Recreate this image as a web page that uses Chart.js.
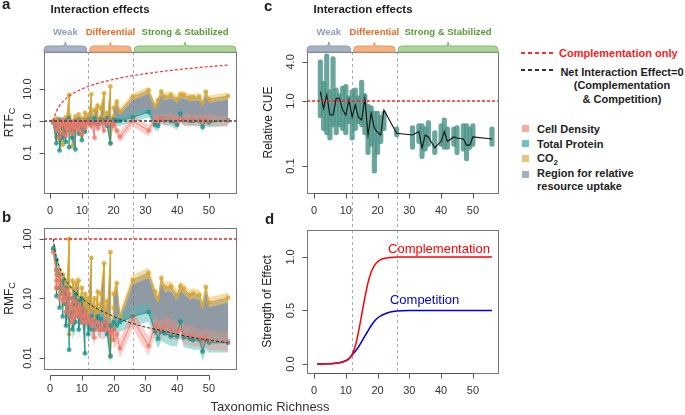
<!DOCTYPE html>
<html>
<head>
<meta charset="utf-8">
<script src="https://cdn.jsdelivr.net/npm/chart.js@4.4.1/dist/chart.umd.min.js"></script>
<style>
  body { margin: 0; width: 685px; height: 415px; background: #fff; position: relative; overflow: hidden;
         font-family: "Liberation Sans", Arial, sans-serif; color: #222; }
  .pane { position: absolute; }
  .lbl { position: absolute; white-space: nowrap; }
  .leg { font-weight: bold; font-size: 11px; line-height: 14px; color: #222; }
  .sq { position: absolute; width: 7px; height: 7px; }
  .dash { position: absolute; width: 33px; height: 2px; }
</style>
</head>
<body>
<div class="pane" style="left:0;top:0;width:245px;height:218px"><canvas id="chartA"></canvas></div>
<div class="pane" style="left:0;top:218px;width:245px;height:182px"><canvas id="chartB"></canvas></div>
<div class="pane" style="left:262px;top:0;width:245px;height:218px"><canvas id="chartC"></canvas></div>
<div class="pane" style="left:262px;top:218px;width:245px;height:182px"><canvas id="chartD"></canvas></div>

<div class="lbl" style="left:2px;top:-5px;font-weight:bold;font-size:15px">a</div>
<div class="lbl" style="left:2px;top:208px;font-weight:bold;font-size:15px">b</div>
<div class="lbl" style="left:264px;top:-3px;font-weight:bold;font-size:15px">c</div>
<div class="lbl" style="left:265px;top:210px;font-weight:bold;font-size:15px">d</div>
<div class="lbl" style="left:40px;top:3px;width:120px;text-align:center;font-weight:bold;font-size:11.5px">Interaction effects</div>
<div class="lbl" style="left:303px;top:3px;width:120px;text-align:center;font-weight:bold;font-size:11.5px">Interaction effects</div>
<div class="lbl" style="left:200px;top:399px;width:140px;text-align:center;font-size:13px;color:#333">Taxonomic Richness</div>

<div class="dash" style="left:521px;top:52px;background:repeating-linear-gradient(to right,#ff2828 0 4px,transparent 4px 7px)"></div>
<div class="lbl leg" style="left:559px;top:46px;color:#ff1a1a">Complementation only</div>
<div class="dash" style="left:521px;top:69px;background:repeating-linear-gradient(to right,#333 0 4px,transparent 4px 7px);height:1.5px"></div>
<div class="lbl leg" style="left:556px;top:66px;width:132px;text-align:center;line-height:13.4px">Net Interaction Effect=0<br>(Complementation<br>&amp; Competition)</div>

<div class="sq" style="left:522px;top:125px;background:#f7aaa0"></div>
<div class="sq" style="left:522px;top:140px;background:#6ec3be"></div>
<div class="sq" style="left:522px;top:155px;background:#e8c682"></div>
<div class="sq" style="left:522px;top:171px;background:#a5afbb"></div>
<div class="lbl leg" style="left:537px;top:122px">Cell Density</div>
<div class="lbl leg" style="left:537px;top:137px">Total Protein</div>
<div class="lbl leg" style="left:537px;top:151px">CO<sub style="font-size:8px;line-height:0">2</sub></div>
<div class="lbl leg" style="left:537px;top:167px;line-height:13.4px">Region for relative<br>resource uptake</div>

<script>
const FONT = '"Liberation Sans", Arial, sans-serif';

// richness of every observation (replicates share a value)
const richness = [
  1,
  2, 2, 2, 3, 3, 3, 4, 4, 4, 5, 5, 5,
  6, 6, 6, 7, 7, 7, 8, 8, 8, 9, 9, 9,
  10, 10, 10, 11, 11, 11,
  12, 12, 13, 13, 14, 14, 15, 15, 16, 16,
  17, 17, 18, 18, 19, 19, 20, 20, 21, 22,
  26, 31, 33, 34, 35, 36, 38, 40, 41, 42, 44, 45, 47, 48, 49, 50, 56
];

// panel a: RTF_C
const co2RTF = [
  1.0,
  0.3, 1.2, 0.7, 0.5, 0.9, 0.25, 1.0, 0.6, 0.18, 1.3, 0.45, 0.8,
  6.5, 1.5, 0.7, 0.3, 1.0, 0.16, 1.4, 0.7, 1.1, 0.5, 1.6, 0.9,
  1.2, 0.8, 0.35, 1.8, 0.6, 1.0,
  1.5, 0.9, 6.8, 2.0, 1.2, 2.2, 3.0, 1.0, 1.3, 2.5,
  7.3, 1.1, 1.8, 0.9, 12, 0.2, 1.4, 2.5, 4.0, 2.0,
  5.7, 9.0, 3.0, 4.5, 8.2, 5.7, 6.5, 4.8, 6.8, 6.5, 5.4, 5.5, 5.7, 3.7, 8.1, 4.8, 6.0
];
const proteinRTF = [
  0.9,
  0.2, 0.7, 0.5, 0.35, 1.1, 0.12, 0.6, 0.3, 0.9, 0.22, 1.0, 0.5,
  0.8, 0.15, 1.2, 0.5, 0.9, 0.3, 0.13, 0.7, 1.0, 0.8, 0.4, 1.1,
  0.6, 0.25, 0.9, 1.0, 0.46, 0.8,
  0.9, 1.1, 0.8, 1.0, 1.2, 0.9, 1.0, 0.8, 1.1, 0.9,
  0.9, 1.0, 1.2, 0.7, 0.2, 1.0, 0.9, 1.1, 1.0, 1.0,
  1.3, 1.9, 0.75, 0.7, 1.2, 1.05, 1.0, 0.75, 1.7, 1.05, 1.0, 1.0, 1.0, 0.65, 1.0, 0.9, 1.05
];
const cellRTF = [
  0.9,
  0.5, 0.8, 1.0, 0.3, 0.7, 0.9, 0.8, 0.4, 1.1, 0.6, 0.9, 0.35,
  1.0, 0.5, 0.8, 0.7, 0.9, 0.4, 0.9, 0.6, 1.0, 0.5, 0.8, 1.0,
  0.9, 0.4, 0.7, 0.8, 1.0, 0.6,
  0.9, 1.0, 0.7, 1.0, 0.3, 0.8, 1.0, 0.6, 0.9, 1.0,
  0.5, 0.9, 1.0, 0.8, 0.9, 1.0, 0.7, 0.9, 0.5, 0.32,
  1.0, 0.5, 1.1, 1.0, 1.2, 1.1, 1.15, 1.0, 1.2, 1.1, 1.05, 1.1, 1.0, 1.1, 1.0, 1.05, 1.0
];

// panel b: RMF_C
const co2RMF = [
  0.65,
  0.4, 0.15, 0.25, 0.3, 0.12, 0.2, 0.15, 0.08, 0.25, 0.2, 0.1, 0.06,
  1.0, 0.12, 0.025, 0.08, 0.15, 0.2, 0.12, 0.07, 0.18, 0.2, 0.1, 0.06,
  0.15, 0.08, 0.06, 0.12, 0.05, 0.09,
  0.1, 0.06, 0.48, 0.07, 0.1, 0.05, 0.13, 0.06, 0.08, 0.12,
  0.39, 0.06, 0.09, 0.05, 0.6, 0.011, 0.07, 0.12, 0.18, 0.05,
  0.205, 0.27, 0.13, 0.10, 0.22, 0.155, 0.16, 0.115, 0.162, 0.145, 0.115, 0.122, 0.115, 0.078, 0.155, 0.086, 0.103
];
const proteinRMF = [
  0.7,
  0.45, 0.11, 0.3, 0.25, 0.07, 0.15, 0.12, 0.05, 0.2, 0.08, 0.15, 0.035,
  0.1, 0.0137, 0.05, 0.06, 0.1, 0.03, 0.04, 0.08, 0.12, 0.05, 0.09, 0.03,
  0.07, 0.04, 0.1, 0.012, 0.06, 0.05,
  0.04, 0.025, 0.05, 0.03, 0.03, 0.04, 0.05, 0.035, 0.03, 0.045,
  0.04, 0.03, 0.035, 0.025, 0.0106, 0.035, 0.03, 0.04, 0.035, 0.04,
  0.05, 0.059, 0.028, 0.021, 0.028, 0.026, 0.023, 0.023, 0.041, 0.022, 0.021, 0.020, 0.020, 0.0128, 0.020, 0.018, 0.018
];
const cellRMF = [
  0.6,
  0.3, 0.2, 0.15, 0.2, 0.1, 0.25, 0.15, 0.09, 0.12, 0.1, 0.06, 0.14,
  0.08, 0.12, 0.05, 0.07, 0.1, 0.04, 0.06, 0.09, 0.05, 0.08, 0.05, 0.07,
  0.05, 0.07, 0.04, 0.06, 0.04, 0.05,
  0.05, 0.04, 0.045, 0.035, 0.022, 0.04, 0.04, 0.03, 0.035, 0.03,
  0.03, 0.04, 0.035, 0.03, 0.03, 0.025, 0.03, 0.02, 0.025, 0.0145,
  0.045, 0.016, 0.035, 0.03, 0.03, 0.035, 0.03, 0.028, 0.03, 0.025, 0.024, 0.023, 0.022, 0.02, 0.022, 0.02, 0.019
];

// ribbon half-width (multiplicative): cell density, total protein, CO2
const ribbonRTF = [1.5, 1.45, 1.3];
const ribbonRMF = [1.45, 1.45, 1.22];

// reference curves
const refRichness = [1, 1.5, 2, 3, 4, 5, 6, 8, 10, 12, 15, 18, 22, 26, 30, 35, 40, 45, 50, 56];
const complementationOnly = [1, 1.5, 2, 3, 4, 5, 6, 8, 10, 12, 15, 18, 22, 26, 30, 35, 40, 45, 50, 56];
const netZeroRMF = [1, 0.667, 0.5, 0.333, 0.25, 0.2, 0.167, 0.125, 0.1, 0.083, 0.067, 0.056, 0.045, 0.038, 0.033, 0.029, 0.025, 0.022, 0.02, 0.018];

// panel c: relative CUE
const cueRichness = [2, 3, 4, 5, 6, 7, 8, 9, 10, 11, 12, 13, 14, 15, 16, 17, 18, 19, 20, 21, 22,
  26, 31, 33, 34, 35, 36, 38, 40, 41, 42, 44, 45, 47, 48, 49, 50, 56];
const cueMean = [1.39, 0.77, 1.24, 0.61, 0.61, 1.1, 1.1, 0.73, 0.61, 1.04, 0.57, 0.87, 0.56, 0.51, 1.1, 0.30, 0.65, 0.38, 0.33, 0.30, 0.73,
  0.32, 0.30, 0.34, 0.19, 0.30, 0.28, 0.19, 0.24, 0.34, 0.24, 0.28, 0.27, 0.26, 0.21, 0.21, 0.28, 0.26];
const cueLow = [0.55, 0.35, 0.3, 0.25, 0.4, 0.3, 0.4, 0.35, 0.3, 0.45, 0.25, 0.35, 0.45, 0.4, 0.3, 0.15, 0.2, 0.078, 0.15, 0.22, 0.35,
  0.28, 0.18, 0.22, 0.13, 0.17, 0.2, 0.15, 0.2, 0.18, 0.18, 0.2, 0.15, 0.17, 0.12, 0.18, 0.2, 0.2];
const cueHigh = [4.3, 2.0, 5.3, 1.5, 4.8, 1.6, 1.3, 1.7, 1.8, 1.2, 1.5, 1.6, 1.2, 2.1, 1.3, 0.9, 0.85, 0.7, 0.7, 0.6, 0.7,
  0.4, 0.42, 0.45, 0.45, 0.4, 0.5, 0.35, 0.45, 0.55, 0.4, 0.4, 0.42, 0.45, 0.45, 0.4, 0.45, 0.4];

// panel d: strength of effect
const effectRichness = [1, 4, 6, 8, 10, 11, 12, 13, 14, 15, 16, 17, 18, 19, 20, 21, 22, 24, 26, 30, 40, 50, 56];
const complementation = [0, 0.002, 0.005, 0.012, 0.03, 0.05, 0.09, 0.17, 0.30, 0.46, 0.62, 0.76, 0.86, 0.92, 0.955, 0.975, 0.985, 0.995, 1.0, 1.0, 1.0, 1.0, 1.0];
const competition = [0, 0.002, 0.005, 0.012, 0.03, 0.05, 0.085, 0.12, 0.16, 0.21, 0.26, 0.31, 0.36, 0.40, 0.43, 0.45, 0.465, 0.485, 0.495, 0.5, 0.5, 0.5, 0.5];

const xTicks = [0, 10, 20, 30, 40, 50];
const phaseNames = ['Weak', 'Differential', 'Strong & Stabilized'];
const phaseBreaks = [12, 26];

const COLORS = {
  cell:    { band: 'rgba(248,140,128,0.42)', line: 'rgba(240,118,106,0.85)', point: 'rgba(240,118,106,0.75)' },
  protein: { band: 'rgba(80,185,180,0.48)',  line: 'rgba(25,140,135,0.85)',  point: 'rgba(28,148,142,0.8)' },
  co2:     { band: 'rgba(236,196,104,0.6)',  line: 'rgba(215,165,45,0.9)',   point: 'rgba(215,165,45,0.8)' }
};
const PHASE_FILL = ['#a8b2c5', '#f4b183', '#aed39b'];
const PHASE_EDGE = ['#8e99ae', '#e89a62', '#86b86a'];
const PHASE_TEXT = ['#8b9bbf', '#e26a22', '#5b9a3a'];

const toXY = (xs, ys) => xs.map((x, i) => ({ x, y: ys[i] }));

function fluxDatasets(cell, protein, co2, ribbon) {
  // index 0: grey region between CO2 and total protein (protein line is index 6)
  const sets = [{ data: toXY(richness, co2), fill: 6, backgroundColor: 'rgba(100,115,130,0.72)',
                  borderColor: 'transparent', borderWidth: 0, pointRadius: 0, order: 9 }];
  [[cell, ribbon[0], COLORS.cell], [protein, ribbon[1], COLORS.protein], [co2, ribbon[2], COLORS.co2]].forEach(([vals, f, c]) => {
    sets.push({ data: toXY(richness, vals.map(v => v / f)), borderColor: 'transparent', borderWidth: 0, pointRadius: 0, fill: false, order: 8 });
    sets.push({ data: toXY(richness, vals.map(v => v * f)), borderColor: 'transparent', borderWidth: 0, pointRadius: 0, fill: '-1', backgroundColor: c.band, order: 8 });
    sets.push({ data: toXY(richness, vals), borderColor: c.line, borderWidth: 1, pointRadius: 2.4,
                pointBackgroundColor: c.point, pointBorderWidth: 0, fill: false, order: 2 });
  });
  return sets;
}

function panelOptions(p) {
  return {
    responsive: true,
    maintainAspectRatio: false,
    animation: false,
    events: [],
    layout: { padding: { left: p.pad[0], top: p.pad[1], right: p.pad[2], bottom: p.pad[3] } },
    plugins: { legend: { display: false }, tooltip: { enabled: false } },
    elements: { line: { tension: 0 } },
    scales: {
      x: { type: 'linear', display: false, min: p.xMin, max: p.xMax, offset: false },
      y: { type: p.yType, display: false, min: p.yMin, max: p.yMax, bounds: 'data' }
    }
  };
}

function drawTab(ctx, x0, x1, yt, yb, fill, edge) {
  const r = 4, xm = (x0 + x1) / 2;
  ctx.beginPath();
  ctx.moveTo(x0, yb);
  ctx.lineTo(x0, yt + r);
  ctx.quadraticCurveTo(x0, yt, x0 + r, yt);
  ctx.lineTo(xm - 3, yt);
  ctx.quadraticCurveTo(xm, yt, xm, yt - 4);
  ctx.quadraticCurveTo(xm, yt, xm + 3, yt);
  ctx.lineTo(x1 - r, yt);
  ctx.quadraticCurveTo(x1, yt, x1, yt + r);
  ctx.lineTo(x1, yb);
  ctx.closePath();
  ctx.fillStyle = fill;
  ctx.fill();
  ctx.strokeStyle = edge;
  ctx.lineWidth = 1;
  ctx.stroke();
}

function panelPlugin(cfg) {
  return {
    id: 'panel' + cfg.name,
    beforeDatasetsDraw(chart) {
      const { ctx, chartArea: ca, scales: { x } } = chart;
      ctx.save();
      ctx.strokeStyle = '#9fabc2';
      ctx.lineWidth = 1;
      ctx.setLineDash([3, 3]);
      phaseBreaks.forEach(b => {
        const px = Math.round(x.getPixelForValue(b)) + 0.5;
        ctx.beginPath();
        ctx.moveTo(px, cfg.vTop === 'canvas' ? 0 : ca.top);
        ctx.lineTo(px, cfg.vBottom === 'canvas' ? chart.height : ca.bottom);
        ctx.stroke();
      });
      ctx.restore();
    },
    afterDatasetsDraw(chart) {
      const { ctx, chartArea: ca, scales: { y } } = chart;
      ctx.save();
      ctx.beginPath();
      ctx.rect(ca.left, ca.top, ca.width, ca.height);
      ctx.clip();
      (cfg.hRefs || []).forEach(r => {
        const py = Math.round(y.getPixelForValue(r.y));
        ctx.strokeStyle = r.color;
        ctx.lineWidth = 1.3;
        ctx.setLineDash([3, 2]);
        ctx.beginPath();
        ctx.moveTo(ca.left, py);
        ctx.lineTo(ca.right, py);
        ctx.stroke();
      });
      ctx.restore();
    },
    afterDraw(chart) {
      const { ctx, chartArea: ca, scales: { x, y } } = chart;
      ctx.save();
      // plot box
      ctx.strokeStyle = '#777';
      ctx.lineWidth = 1;
      ctx.strokeRect(Math.round(ca.left) + 0.5, Math.round(ca.top) + 0.5, Math.round(ca.width), Math.round(ca.height));

      // axes with R-style ticks
      ctx.strokeStyle = '#555';
      const ax = Math.round(ca.bottom) + (cfg.xOffset || 0) + 0.5;
      const xp = v => Math.round(x.getPixelForValue(v)) + 0.5;
      ctx.beginPath();
      ctx.moveTo(xp(xTicks[0]), ax);
      ctx.lineTo(xp(xTicks[xTicks.length - 1]), ax);
      xTicks.forEach(v => { ctx.moveTo(xp(v), ax); ctx.lineTo(xp(v), ax + 5); });
      const lx = Math.round(ca.left) + 0.5;
      cfg.yTicks.forEach(v => {
        const py = Math.round(y.getPixelForValue(v)) + 0.5;
        ctx.moveTo(lx, py);
        ctx.lineTo(lx - 5, py);
      });
      ctx.stroke();

      ctx.fillStyle = '#333';
      ctx.font = '11px ' + FONT;
      ctx.textAlign = 'center';
      ctx.textBaseline = 'middle';
      xTicks.forEach(v => ctx.fillText(String(v), x.getPixelForValue(v), ax + cfg.xLabelGap));
      cfg.yTicks.forEach((v, i) => {
        ctx.save();
        ctx.translate(ca.left - 16, y.getPixelForValue(v));
        ctx.rotate(-Math.PI / 2);
        ctx.fillText(cfg.yLabels[i], 0, 0);
        ctx.restore();
      });

      // y axis title, optional subscript
      const [main, sub] = cfg.yTitle;
      ctx.save();
      ctx.translate(ca.left - cfg.yTitleGap, (ca.top + ca.bottom) / 2);
      ctx.rotate(-Math.PI / 2);
      ctx.font = '12px ' + FONT;
      const w1 = ctx.measureText(main).width;
      ctx.font = '9px ' + FONT;
      const w2 = sub ? ctx.measureText(sub).width : 0;
      ctx.textAlign = 'left';
      ctx.fillStyle = '#222';
      ctx.font = '12px ' + FONT;
      ctx.fillText(main, -(w1 + w2) / 2, 0);
      if (sub) {
        ctx.font = '9px ' + FONT;
        ctx.fillText(sub, -(w1 + w2) / 2 + w1, 3);
      }
      ctx.restore();

      // phase header tabs
      if (cfg.header) {
        const edges = [ca.left, x.getPixelForValue(phaseBreaks[0]), x.getPixelForValue(phaseBreaks[1]), ca.right];
        phaseNames.forEach((name, i) => {
          const x0 = edges[i] + (i ? 1.5 : 0);
          const x1 = edges[i + 1] - (i < 2 ? 1.5 : 0);
          drawTab(ctx, x0, x1, ca.top - 6, ca.top, PHASE_FILL[i], PHASE_EDGE[i]);
          ctx.fillStyle = PHASE_TEXT[i];
          ctx.font = 'bold 9.5px ' + FONT;
          ctx.textAlign = 'center';
          ctx.fillText(name, (x0 + x1) / 2, ca.top - 20);
        });
      }

      // in-plot annotations
      (cfg.texts || []).forEach(t => {
        ctx.fillStyle = t.color;
        ctx.font = '13px ' + FONT;
        ctx.textAlign = 'left';
        ctx.fillText(t.text, x.getPixelForValue(t.x), y.getPixelForValue(t.y));
      });
      ctx.restore();
    }
  };
}

// a
new Chart(document.getElementById('chartA'), {
  type: 'line',
  data: {
    datasets: fluxDatasets(cellRTF, proteinRTF, co2RTF, ribbonRTF).concat([{
      data: toXY(refRichness, complementationOnly), borderColor: '#ff3030', borderDash: [3, 2], borderWidth: 1.2,
      pointRadius: 0, fill: false, cubicInterpolationMode: 'monotone', order: 0
    }])
  },
  options: panelOptions({ pad: [44, 52, 9, 25], xMin: -1.9, xMax: 58.5, yType: 'logarithmic', yMin: 0.0056, yMax: 143 }),
  plugins: [panelPlugin({
    name: 'A', yTicks: [10, 1, 0.1], yLabels: ['10.0', '1.0', '0.1'], yTitle: ['RTF', 'C'], yTitleGap: 34,
    header: true, vTop: 'area', vBottom: 'canvas', xLabelGap: 17,
    hRefs: [{ y: 1, color: '#444' }]
  })]
});

// b
new Chart(document.getElementById('chartB'), {
  type: 'line',
  data: {
    datasets: fluxDatasets(cellRMF, proteinRMF, co2RMF, ribbonRMF).concat([{
      data: toXY(refRichness, netZeroRMF), borderColor: '#222', borderDash: [3, 2], borderWidth: 1,
      pointRadius: 0, fill: false, cubicInterpolationMode: 'monotone', order: 0
    }])
  },
  options: panelOptions({ pad: [44, 10, 9, 31], xMin: -1.9, xMax: 58.5, yType: 'logarithmic', yMin: 0.00653, yMax: 1.53 }),
  plugins: [panelPlugin({
    name: 'B', yTicks: [1, 0.1, 0.01], yLabels: ['1.00', '0.10', '0.01'], yTitle: ['RMF', 'C'], yTitleGap: 34,
    header: false, vTop: 'canvas', vBottom: 'area', xOffset: 6, xLabelGap: 13,
    hRefs: [{ y: 1, color: '#ff2020' }]
  })]
});

// c
new Chart(document.getElementById('chartC'), {
  type: 'line',
  data: {
    datasets: [
      { type: 'bar', data: cueRichness.map((x, i) => ({ x, y: [cueLow[i], cueHigh[i]] })),
        backgroundColor: 'rgba(74,146,136,0.82)', barThickness: 4.5, borderRadius: 2.5, borderSkipped: false, order: 3 },
      { type: 'line', data: toXY(cueRichness, cueMean), borderColor: '#111', borderWidth: 1.1,
        pointRadius: 0, fill: false, order: 1 }
    ]
  },
  options: panelOptions({ pad: [45, 52, 9, 25], xMin: -2.2, xMax: 57.9, yType: 'logarithmic', yMin: 0.0385, yMax: 5.67 }),
  plugins: [panelPlugin({
    name: 'C', yTicks: [4, 1, 0.1], yLabels: ['4.0', '1.0', '0.1'], yTitle: ['Relative CUE'], yTitleGap: 38,
    header: true, vTop: 'area', vBottom: 'canvas', xLabelGap: 17,
    hRefs: [{ y: 1, color: '#ff2020' }]
  })]
});

// d
new Chart(document.getElementById('chartD'), {
  type: 'line',
  data: {
    datasets: [
      { data: toXY(effectRichness, complementation), borderColor: '#ff0000', borderWidth: 1.5, pointRadius: 0,
        fill: false, cubicInterpolationMode: 'monotone' },
      { data: toXY(effectRichness, competition), borderColor: '#0000dd', borderWidth: 1.5, pointRadius: 0,
        fill: false, cubicInterpolationMode: 'monotone' }
    ]
  },
  options: panelOptions({ pad: [45, 12, 9, 27], xMin: -2.2, xMax: 57.9, yType: 'linear', yMin: -0.084, yMax: 1.252 }),
  plugins: [panelPlugin({
    name: 'D', yTicks: [1, 0.5, 0], yLabels: ['1.0', '0.5', '0.0'], yTitle: ['Strength of Effect'], yTitleGap: 39,
    header: false, vTop: 'canvas', vBottom: 'area', xLabelGap: 17,
    texts: [
      { x: 23.3, y: 1.075, text: 'Complementation', color: '#ff0000' },
      { x: 23.9, y: 0.59, text: 'Competition', color: '#0000dd' }
    ]
  })]
});
</script>
</body>
</html>
